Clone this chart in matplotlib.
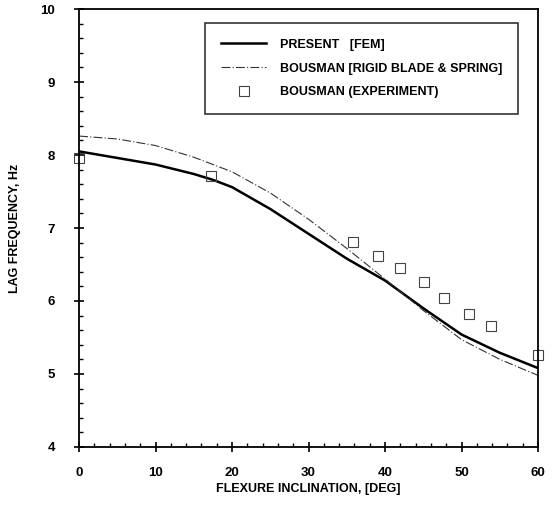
import matplotlib.pyplot as plt
from matplotlib.ticker import MultipleLocator

plt.rcParams['font.family'] = ['Liberation Sans', 'DejaVu Sans']
plt.rcParams['font.weight'] = 'bold'

# PRESENT (FEM)
fem_x = [0, 5, 10, 15, 17.5, 20, 25, 30, 35, 40, 45, 50, 55, 60]
fem_y = [8.05, 7.96, 7.87, 7.74, 7.66, 7.56, 7.26, 6.92, 6.58, 6.28, 5.90, 5.54, 5.29, 5.08]

# BOUSMAN (rigid blade & spring)
rigid_x = [0, 5, 10, 15, 20, 25, 30, 35, 40, 45, 50, 55, 60]
rigid_y = [8.26, 8.22, 8.13, 7.97, 7.77, 7.48, 7.12, 6.72, 6.30, 5.87, 5.47, 5.20, 4.98]

# BOUSMAN (experiment)
exp_x = [0, 17.3, 35.8, 39.1, 42.0, 45.1, 47.7, 51.0, 53.9, 60]
exp_y = [7.96, 7.71, 6.81, 6.62, 6.45, 6.26, 6.04, 5.82, 5.66, 5.26]

fig, ax = plt.subplots(figsize=(5.57, 5.05), dpi=100)
fig.subplots_adjust(left=0.142, right=0.966, top=0.982, bottom=0.115)

ax.plot(fem_x, fem_y, color='black', lw=1.8, label='PRESENT   [FEM]')
ax.plot(rigid_x, rigid_y, color='#333333', lw=0.8, ls=(0, (8, 2, 1, 2)),
        label='BOUSMAN [RIGID BLADE & SPRING]')
ax.plot(exp_x, exp_y, ls='none', marker='s', ms=7, mfc='none', mec='#444444',
        mew=0.8, label='BOUSMAN (EXPERIMENT)', clip_on=False)

ax.set_xlim(0, 60)
ax.set_ylim(4, 10)
ax.xaxis.set_major_locator(MultipleLocator(10))
ax.xaxis.set_minor_locator(MultipleLocator(2))
ax.yaxis.set_major_locator(MultipleLocator(1))
ax.yaxis.set_minor_locator(MultipleLocator(0.2))
ax.tick_params(which='major', direction='inout', length=7, width=1.2, labelsize=9.5)
ax.tick_params(axis='x', which='major', pad=11)
ax.tick_params(axis='y', which='major', pad=14)
ax.tick_params(which='minor', direction='in', length=3, width=1)
for s in ax.spines.values():
    s.set_linewidth(1.3)

ax.set_xlabel('FLEXURE INCLINATION, [DEG]', fontsize=9, fontweight='bold', labelpad=3)
ax.set_ylabel('LAG FREQUENCY, Hz', fontsize=9, fontweight='bold', labelpad=14)

leg = ax.legend(loc='upper right', bbox_to_anchor=(0.956, 0.968), fontsize=9,
                frameon=True, fancybox=False, edgecolor='black', handlelength=3.6,
                borderpad=1.25, labelspacing=0.95, handletextpad=1.1, borderaxespad=0)
leg.get_frame().set_linewidth(1.2)

fig.savefig('out.png', dpi=100)
